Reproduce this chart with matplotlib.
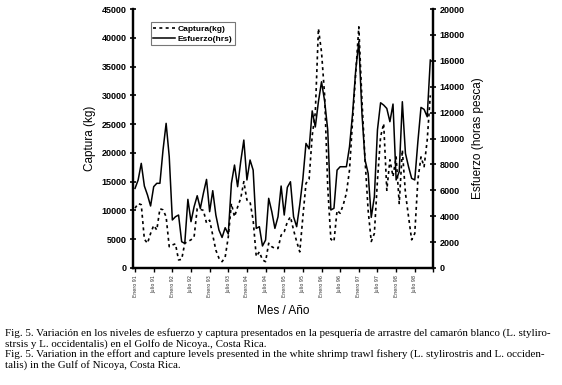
import numpy as np
import matplotlib.pyplot as plt

# Captura (kg) y esfuerzo (horas de pesca), mensual Enero 91 - Diciembre 98
captura = [10400, 11200, 11000, 5000, 4300, 6000, 7400, 6600, 10300, 10100,
           8900, 3700, 4000, 4200, 1400, 1500, 4300, 4600, 4900, 5400,
           10300, 10200, 10000, 7800, 8300, 5700, 3100, 1700, 1100, 1900,
           5400, 11200, 8900, 10600, 12100, 15000, 11800, 11500, 8300, 2000,
           2800, 1400, 1100, 4300, 3700, 3400, 3400, 5700, 6300, 8000,
           8900, 6600, 4600, 2800, 8900, 14700, 15400, 23000, 27000, 41600,
           37500, 30000, 14000, 5000, 4600, 10000, 9500, 11000, 13000, 17000,
           25700, 33800, 41900, 29200, 18800, 10000, 4600, 6000, 15300, 22800,
           25100, 13500, 18800, 15900, 19300, 11200, 20500, 13000, 8900, 4900,
           6000, 15300, 19300, 17600, 22200, 30000]

esfuerzo = [6150, 6800, 8080, 6330, 5640, 4790, 6280, 6540, 6540, 9110,
            11170, 8600, 3710, 3960, 4090, 2030, 1900, 5300, 3580, 4730,
            5580, 4600, 5780, 6840, 4350, 5970, 4090, 2930, 2360, 3110,
            2620, 6530, 7950, 6280, 8220, 9880, 6800, 8340, 7560, 3060,
            3190, 1700, 2160, 5380, 4350, 3060, 3960, 6330, 4090, 6230,
            6660, 3960, 3190, 4890, 6890, 9620, 9200, 12130, 10890, 12840,
            14380, 12890, 10650, 4480, 4610, 7560, 7820, 7820, 7820, 9360,
            11940, 15280, 17470, 11940, 8340, 7310, 3910, 5510, 10670, 12760,
            12580, 12320, 11300, 12660, 6800, 7440, 12840, 8850, 7820, 6920,
            6800, 9750, 12400, 12250, 11680, 16060]

etiquetas = ['Enero 91', 'Julio 91', 'Enero 92', 'Julio 92', 'Enero 93', 'Julio 93',
             'Enero 94', 'Julio 94', 'Enero 95', 'Julio 95', 'Enero 96', 'Julio 96',
             'Enero 97', 'Julio 97', 'Enero 98', 'Julio 98']

meses = np.arange(len(captura))

fig = plt.figure(figsize=(5.62, 3.85), dpi=100)
ax = fig.add_axes([0.2367, 0.3039, 0.5345, 0.6727])
ax2 = ax.twinx()

l1, = ax.plot(meses, captura, color='black', lw=1.2, linestyle=(0, (1.8, 2)), label='Captura(kg)')
l2, = ax2.plot(meses, esfuerzo, color='black', lw=1.1, label='Esfuerzo(hrs)')

ax.set_xlim(-0.65, 96)
ax.set_ylim(0, 45000)
ax2.set_ylim(0, 20000)
ax.set_yticks(np.arange(0, 45001, 5000))
ax2.set_yticks(np.arange(0, 20001, 2000))
ax.set_xticks(list(np.arange(0, 91, 6)) + [96])
ax.set_xticklabels(etiquetas + [''], rotation=90, fontsize=3.5, color='#333333')

for a in (ax, ax2):
    a.spines['top'].set_visible(False)
    for s in a.spines.values():
        s.set_linewidth(1.6)
    for lab in a.get_yticklabels():
        lab.set_fontweight('bold')
        lab.set_fontsize(6.5)
        lab.set_family('Liberation Sans')
ax.tick_params(axis='y', direction='inout', length=5, width=1.2, pad=2)
ax2.tick_params(axis='y', direction='inout', length=5, width=1.2, pad=2)
ax.tick_params(axis='x', direction='out', length=3, width=1.0, pad=2)

ax.set_ylabel('Captura (kg)', fontsize=8.5, family='Liberation Sans', labelpad=4)
ax2.set_ylabel('Esfuerzo (horas pesca)', fontsize=8.5, family='Liberation Sans', labelpad=5)
ax.set_xlabel('Mes / Año', fontsize=8.5, family='Liberation Sans', labelpad=6)

leg = ax.legend(handles=[l1, l2], loc='upper left', bbox_to_anchor=(0.045, 0.965),
                prop={'family': 'Liberation Sans', 'weight': 'bold', 'size': 6},
                fancybox=False, edgecolor='#555555', handlelength=2.6,
                borderpad=0.3, labelspacing=0.3, handletextpad=0.3)
leg.get_frame().set_linewidth(0.8)

caption = [
    'Fig. 5. Variación en los niveles de esfuerzo y captura presentados en la pesquería de arrastre del camarón blanco (L. styliro-',
    'strsis y L. occidentalis) en el Golfo de Nicoya., Costa Rica.',
    'Fig. 5. Variation in the effort and capture levels presented in the white shrimp trawl fishery (L. stylirostris and L. occiden-',
    'talis) in the Gulf of Nicoya, Costa Rica.',
]
for k, line in enumerate(caption):
    fig.text(5 / 562, 1 - (333 + 10.7 * k) / 385, line, fontsize=7.9,
             family='Liberation Serif', va='center', ha='left')

fig.savefig('out.png', dpi=100)
